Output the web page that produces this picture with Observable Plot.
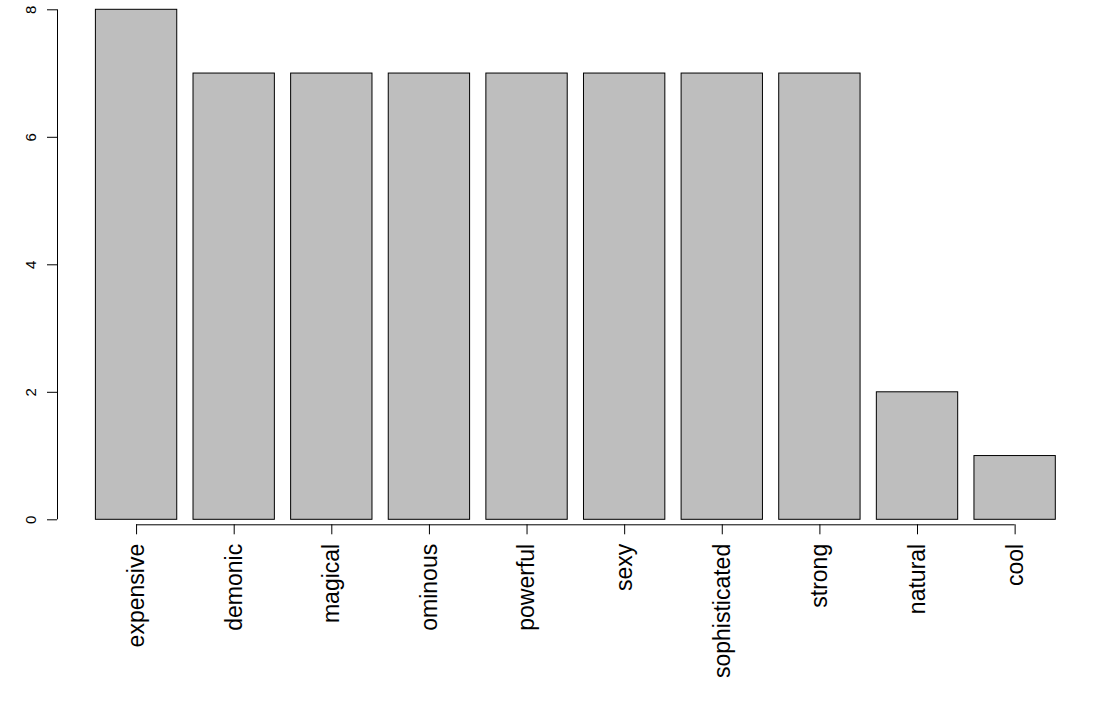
<!DOCTYPE html>
<html>
<head>
<meta charset="utf-8">
<script src="https://cdn.jsdelivr.net/npm/d3@7"></script>
<script src="https://cdn.jsdelivr.net/npm/@observablehq/plot@0.6"></script>
<style>
  html, body { margin: 0; padding: 0; background: #fff; }
  #chart svg { display: block; }
</style>
</head>
<body>
<div id="chart"></div>
<script>
const words = ["expensive", "demonic", "magical", "ominous", "powerful", "sexy", "sophisticated", "strong", "natural", "cool"];
const counts = [8, 7, 7, 7, 7, 7, 7, 7, 2, 1];
const yTicks = [0, 2, 4, 6, 8];

// R barplot layout: bar width 1, space 0.2
const space = 0.2, barWidth = 1;
const data = words.map((w, i) => {
  const left = space + i * (barWidth + space);
  return { word: w, count: counts[i], x1: left, x2: left + barWidth, mid: left + barWidth / 2 };
});
const xmin = data[0].x1, xmax = data[data.length - 1].x2;
const ext = 0.04 * (xmax - xmin);
const xlim = [xmin - ext, xmax + ext];
const mids = data.map(d => d.mid);

const font = "'Liberation Sans', Arial, Helvetica, sans-serif";

const chart = Plot.plot({
  width: 1100,
  height: 707,
  marginLeft: 57,
  marginRight: 1100 - 1093.7,
  marginTop: 9.3,
  marginBottom: 707 - 524.3,
  style: { fontFamily: font, color: "black", background: "white", overflow: "visible" },
  x: { type: "linear", domain: xlim, axis: null },
  y: { domain: [0, 8], range: [519.3, 9.3], axis: null },
  marks: [
    Plot.rectY(data, { x1: "x1", x2: "x2", y: "count", fill: "#bebebe", stroke: "black", strokeWidth: 1 }),
    // y axis
    Plot.ruleX([xlim[0]], { y1: 0, y2: 8, stroke: "black" }),
    Plot.axisY(yTicks, {
      anchor: "left", label: null, tickSize: 10, tickPadding: 12, tickRotate: -90,
      fontSize: 15, tickFormat: d => String(d), stroke: "black"
    }),
    // x axis
    Plot.ruleY([0], { x1: mids[0], x2: mids[mids.length - 1], dy: 5, stroke: "black" }),
    Plot.axisX(mids, {
      anchor: "bottom", label: null, tickSize: 10, tickPadding: 9, tickRotate: -90,
      fontSize: 23, tickFormat: (d, i) => words[i], stroke: "black"
    })
  ]
});
document.getElementById("chart").appendChild(chart);
</script>
</body>
</html>
